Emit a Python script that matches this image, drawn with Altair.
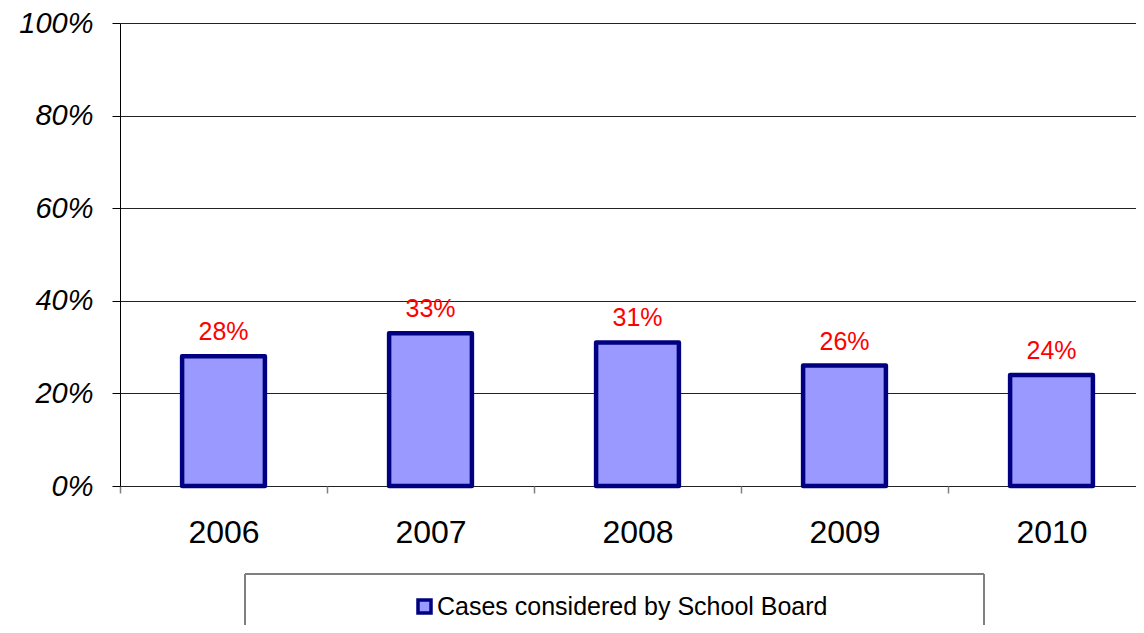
import altair as alt
import pandas as pd

years = ["2006", "2007", "2008", "2009", "2010"]
shares = [0.28, 0.33, 0.31, 0.26, 0.24]
series_name = "Cases considered by School Board"
y_ticks = [0, 0.2, 0.4, 0.6, 0.8, 1.0]

df = pd.DataFrame({"year": years, "share": shares, "series": [series_name] * len(years)})

FONT = "Liberation Sans"
STEP = 207

x_enc = alt.X(
    "year:N",
    sort=years,
    title=None,
    scale=alt.Scale(range=[0, STEP * len(years)], paddingInner=0, paddingOuter=0),
    axis=alt.Axis(
        labelAngle=0, labelFontSize=32, labelFont=FONT, labelColor="black",
        tickBand="center", tickOffset=-STEP / 2, labelOffset=STEP / 2,
        tickSize=7, tickColor="#808080", tickWidth=1.5,
        domain=False, labelPadding=24, grid=False,
    ),
)
y_enc = alt.Y(
    "share:Q",
    title=None,
    scale=alt.Scale(domain=[0, 1], nice=False),
    axis=alt.Axis(
        values=y_ticks, format=".0%", labelFontSize=29, labelFont=FONT,
        labelFontStyle="italic", labelColor="black", tickSize=8, tickColor="black",
        domainColor="black", domainWidth=1, labelPadding=19,
        grid=True, gridColor="#222222", gridWidth=1,
    ),
)

frame_style = dict(color="#7f7f7f", strokeWidth=1.5)
frame_left = alt.Chart(df).mark_rule(**frame_style).encode(
    x=alt.value(125), y=alt.value(551), y2=alt.value(602)
)
frame_right = alt.Chart(df).mark_rule(**frame_style).encode(
    x=alt.value(864), y=alt.value(551), y2=alt.value(602)
)
frame_top = alt.Chart(df).mark_rule(**frame_style).encode(
    x=alt.value(125), x2=alt.value(864), y=alt.value(551)
)

bars = alt.Chart(df).mark_bar(
    width={"band": 0.4}, stroke="#000080", strokeWidth=4.5, strokeJoin="round"
).encode(
    x=x_enc,
    y=y_enc,
    color=alt.Color(
        "series:N",
        scale=alt.Scale(range=["#9999FF"]),
        legend=alt.Legend(
            title=None, orient="none", legendX=292, legendY=571,
            symbolType="square", symbolSize=169, symbolStrokeColor="#000080",
            symbolStrokeWidth=3.5, labelFontSize=25, labelFont=FONT,
            labelColor="black", labelOffset=0, labelLimit=600, padding=0,
        ),
    ),
)

labels = alt.Chart(df).mark_text(
    color="#FF0000", fontSize=25, font=FONT, baseline="alphabetic", dy=-16
).encode(
    x=alt.X("year:N", sort=years),
    y=alt.Y("share:Q"),
    text=alt.Text("share:Q", format=".0%"),
)

chart = alt.layer(frame_left, frame_right, frame_top, bars, labels).properties(
    width=1016,
    height=463,
    autosize=alt.AutoSizeParams(type="none"),
    padding={"left": 112, "top": 15, "right": 0, "bottom": 139},
).configure_view(strokeWidth=0)

chart.save("out.html", embed_options={"renderer": "svg", "actions": False})
